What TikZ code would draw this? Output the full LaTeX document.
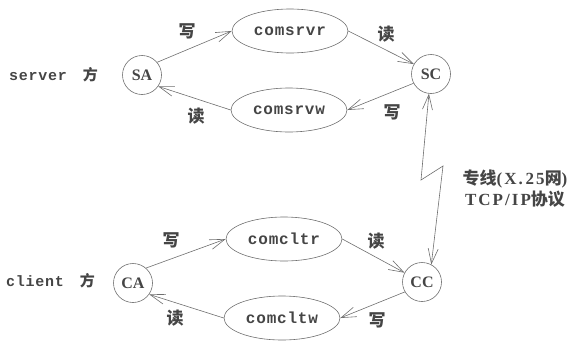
\documentclass[tikz,border=0pt]{standalone}
\usepackage{fontspec}
\setmainfont{Liberation Serif}
\newfontfamily\mono[LetterSpace=5]{Liberation Mono}
\newfontfamily\serifsp[LetterSpace=12]{Liberation Serif}
\newfontfamily\cjk{Noto Sans CJK SC}
\usetikzlibrary{shapes.geometric,arrows.meta}
\definecolor{ink}{HTML}{454545}
\definecolor{wire}{HTML}{6E6E6E}
\begin{document}
\begin{tikzpicture}[x=1pt,y=-1pt,
  ep/.style={circle,draw=wire,line width=0.6pt,minimum size=39pt,inner sep=0pt,
    text=ink,font=\bfseries\fontsize{16}{16}\selectfont},
  buf/.style={ellipse,draw=wire,line width=0.6pt,minimum width=116pt,minimum height=44pt,
    inner sep=0pt,text=ink,font=\mono\bfseries\fontsize{16}{16}\selectfont},
  lbl/.style={text=ink,inner sep=0pt,font=\cjk\bfseries\fontsize{17}{17}\selectfont},
  side/.style={text=ink,inner sep=0pt,font=\mono\bfseries\fontsize{15}{15}\selectfont},
  flow/.style={draw=wire,line width=0.6pt,-{Straight Barb[length=15pt,width=10pt]}},
  link/.style={draw=wire,line width=0.6pt,{Straight Barb[length=15pt,width=10pt]}-{Straight Barb[length=15pt,width=10pt]}}]
\useasboundingbox (0,0) rectangle (577,340);
% endpoints
\node[ep] (SA) at (142,75) {SA};
\node[ep] (SC) at (431,74) {SC};
\node[ep] (CA) at (133,283) {CA};
\node[ep] (CC) at (422,282) {CC};
% buffers
\node[buf] (srvr) at (290,31) {comsrvr};
\node[buf] (srvw) at (289,110) {comsrvw};
\node[buf] (cltr) at (284,239) {comcltr};
\node[buf] (cltw) at (282,318) {comcltw};
% side labels
\node[side,anchor=west] (server) at (9,75) {server\hspace{16pt}{\cjk\bfseries 方}};
\node[side,anchor=west] (client) at (6,281) {client\hspace{16pt}{\cjk\bfseries 方}};
% flows
\draw[flow] (SA.40) -- (srvr.west);
\draw[flow] (srvw.west) -- (SA.-35);
\draw[flow] (srvr.east) -- (SC.150);
\draw[flow] (SC.208) -- (srvw.east);
\draw[flow] (CA.49) -- (cltr.west);
\draw[flow] (cltw.west) -- (CA.-35);
\draw[flow] (cltr.east) -- (CC.152);
\draw[flow] (CC.210) -- (cltw.east);
% flow labels
\node[lbl] (w1) at (187,31) {写};
\node[lbl] (r1) at (196,116) {读};
\node[lbl] (r2) at (386,34) {读};
\node[lbl] (w2) at (392,112) {写};
\node[lbl] (w3) at (171,240) {写};
\node[lbl] (r3) at (175,318) {读};
\node[lbl] (r4) at (376,241) {读};
\node[lbl] (w4) at (377,320) {写};
% leased line
\coordinate (z1) at (421,180);
\coordinate (z2) at (443,166);
\draw[link] (SC.-96) -- (z1) -- (z2) -- (CC.62);
\node[text=ink,inner sep=0pt,align=center,font=\serifsp\bfseries\fontsize{17}{21}\selectfont] (net) at (515,189)
  {{\cjk\bfseries 专线}(X.\,25{\cjk\bfseries 网})\\TCP/IP{\cjk\bfseries 协议}};
\end{tikzpicture}
\end{document}
